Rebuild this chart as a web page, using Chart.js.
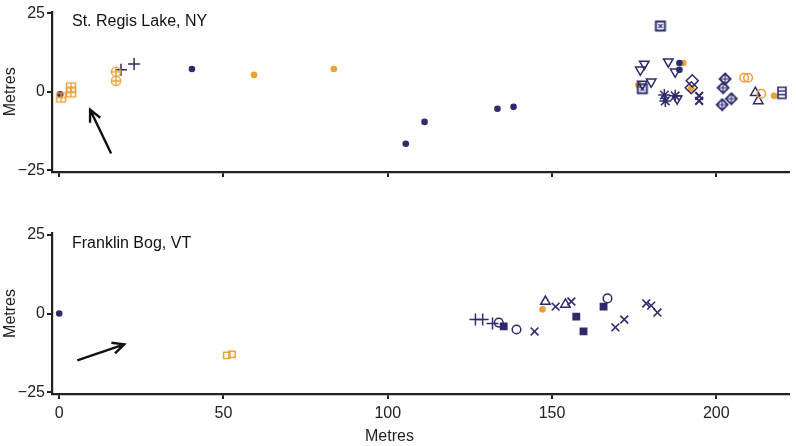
<!DOCTYPE html>
<html>
<head>
<meta charset="utf-8">
<script src="https://cdn.jsdelivr.net/npm/chart.js@4/dist/chart.umd.min.js"></script>
<style>
  body { margin: 0; background: #fff; }
  #wrap { position: relative; width: 796px; height: 446px; font-family: "Liberation Sans", Arial, sans-serif; }
  .panel { position: absolute; left: 0; width: 796px; }
  #xTitle { position: absolute; left: 365px; top: 427px; font-size: 16px; color: #222; }
</style>
</head>
<body>
<div id="wrap">
  <div class="panel" style="top:0;height:200px"><canvas id="regisChart"></canvas></div>
  <div class="panel" style="top:200px;height:246px"><canvas id="franklinChart"></canvas></div>
  <div id="xTitle">Metres</div>
</div>
<script>
// axis ticks
const xTicks = [0, 50, 100, 150, 200]
const yTicks = [-25, 0, 25]

// St. Regis Lake, NY  [x, y] in metres
const regisNavyDot = [[0.3, -0.8], [40.4, 7.3], [105.5, -16.6], [111.2, -9.6], [133.4, -5.4], [138.3, -4.8], [188.8, 9.2], [188.8, 7.0]]
const regisOrangeDot = [[59.3, 5.4], [83.6, 7.3], [176.3, 2.2], [190.0, 9.2], [192.4, 1.0], [217.6, -1.3]]
const regisOrangeSqPlus = [[0.6, -1.8], [3.6, 1.4], [3.6, -0.2]]
const regisOrangeCirPlus = [[17.3, 6.4], [17.3, 3.5]]
const regisNavyPlus = [[18.8, 7.0], [22.8, 8.9]]
const regisNavySqX = [[183.0, 21.0], [177.5, 1.0]]
const regisNavyTriDown = [[178.1, 8.9], [176.9, 7.0], [185.4, 9.6], [187.5, 6.4], [180.2, 3.2], [177.5, 2.5], [188.1, -2.2]]
const regisNavyStar = [[184.2, -1.0], [184.5, -2.9], [187.5, -1.3]]
const regisNavyDiamond = [[192.7, 3.5], [192.4, 1.3]]
const regisNavyX = [[194.8, -1.3], [194.8, -2.9]]
const regisNavyDiamondPlus = [[202.7, 4.1], [202.1, 1.3], [201.8, -4.1], [204.6, -2.2]]
const regisOrangeCircle = [[208.5, 4.5], [209.7, 4.5], [213.7, -0.6]]
const regisNavyTriUp = [[211.9, -0.3], [212.8, -2.9]]
const regisNavySqLines = [[220.0, -0.3]]
const regisArrow = [[15.8, -19.7], [9.4, -5.7]]

// Franklin Bog, VT
const franklinNavyDot = [[0, 0]]
const franklinOrangeSq = [[51.0, -13.3], [52.6, -13.0]]
const franklinNavyPlus = [[126.7, -1.9], [128.9, -1.9], [131.9, -3.2]]
const franklinNavyCircle = [[133.8, -2.9], [139.2, -5.1], [166.9, 4.8]]
const franklinNavySq = [[135.3, -4.1], [157.4, -1.0], [159.6, -5.7], [165.7, 2.2]]
const franklinNavyX = [[144.7, -5.7], [151.1, 2.2], [155.9, 3.8], [169.3, -4.4], [172.0, -1.9], [178.7, 3.2], [180.2, 2.5], [182.1, 0.3]]
const franklinOrangeDot = [[147.1, 1.3]]
const franklinNavyTriUp = [[148.0, 3.8], [154.1, 2.9]]
const franklinArrow = [[5.5, -14.9], [19.8, -9.8]]

const navy = "#2d2b6b"
const orange = "#eba23a"
const ink = "#222"
const fontFamily = "'Liberation Sans', Arial, sans-serif"

// small canvases used as custom point symbols
function glyph(color, draw) {
  const c = document.createElement("canvas")
  c.width = 14
  c.height = 14
  const g = c.getContext("2d")
  g.strokeStyle = color
  g.lineWidth = 1.4
  draw(g)
  return c
}
const sqPlus = (col) => glyph(col, (g) => {
  g.strokeRect(2.5, 2.5, 9, 9)
  g.beginPath(); g.moveTo(7, 2.5); g.lineTo(7, 11.5); g.moveTo(2.5, 7); g.lineTo(11.5, 7); g.stroke()
})
const cirPlus = (col) => glyph(col, (g) => {
  g.beginPath(); g.arc(7, 7, 4.6, 0, Math.PI * 2); g.stroke()
  g.beginPath(); g.moveTo(7, 2.4); g.lineTo(7, 11.6); g.moveTo(2.4, 7); g.lineTo(11.6, 7); g.stroke()
})
const sqX = (col) => glyph(col, (g) => {
  g.lineWidth = 2
  g.strokeRect(2.5, 2.5, 9, 9)
  g.lineWidth = 1.2
  g.beginPath(); g.moveTo(5, 5); g.lineTo(9, 9); g.moveTo(9, 5); g.lineTo(5, 9); g.stroke()
})
const diamondPlus = (col) => glyph(col, (g) => {
  g.lineWidth = 1.8
  g.beginPath(); g.moveTo(7, 1.5); g.lineTo(12.5, 7); g.lineTo(7, 12.5); g.lineTo(1.5, 7); g.closePath(); g.stroke()
  g.lineWidth = 1.2
  g.beginPath(); g.moveTo(7, 1.5); g.lineTo(7, 12.5); g.moveTo(1.5, 7); g.lineTo(12.5, 7); g.stroke()
})
const sqLines = (col) => glyph(col, (g) => {
  g.lineWidth = 1.6
  g.strokeRect(3, 1.5, 8, 11)
  g.beginPath(); g.moveTo(3, 5.2); g.lineTo(11, 5.2); g.moveTo(3, 8.8); g.lineTo(11, 8.8); g.stroke()
})

function ds(data, color, style, opts = {}) {
  return Object.assign({
    data: data.map(([x, y]) => ({ x, y })),
    pointStyle: style,
    pointRadius: 5,
    pointBorderColor: color,
    pointBackgroundColor: "rgba(0,0,0,0)",
    pointBorderWidth: 1.5,
    pointHoverRadius: 5,
  }, opts)
}
const dot = (data, color) => ds(data, color, "circle", { pointRadius: 3.3, pointBackgroundColor: color, pointBorderWidth: 0 })

const regisSets = [
  ds(regisOrangeSqPlus, orange, sqPlus(orange)),
  ds(regisOrangeCirPlus, orange, cirPlus(orange)),
  ds(regisNavyPlus, navy, "cross", { pointRadius: 6 }),
  ds(regisNavySqX, navy, sqX(navy)),
  ds(regisNavyTriDown, navy, "triangle", { pointRadius: 5.5, pointRotation: 180 }),
  ds(regisNavyStar, navy, "star", { pointRadius: 6 }),
  ds(regisNavyDiamond, navy, "rectRot", { pointRadius: 6 }),
  ds(regisNavyX, navy, "crossRot", { pointRadius: 5.5, pointBorderWidth: 2 }),
  ds(regisNavyDiamondPlus, navy, diamondPlus(navy)),
  ds(regisOrangeCircle, orange, "circle", { pointRadius: 4.3 }),
  ds(regisNavyTriUp, navy, "triangle", { pointRadius: 5.5 }),
  ds(regisNavySqLines, navy, sqLines(navy)),
  dot(regisNavyDot, navy),
  dot(regisOrangeDot, orange),
]

const franklinSets = [
  ds(franklinOrangeSq, orange, "rect", { pointRadius: 4.5 }),
  ds(franklinNavyPlus, navy, "cross", { pointRadius: 6 }),
  ds(franklinNavyCircle, navy, "circle", { pointRadius: 4.3 }),
  ds(franklinNavySq, navy, "rect", { pointRadius: 4.5, pointBackgroundColor: navy }),
  ds(franklinNavyX, navy, "crossRot", { pointRadius: 5.5, pointBorderWidth: 1.6 }),
  ds(franklinNavyTriUp, navy, "triangle", { pointRadius: 5.5 }),
  dot(franklinNavyDot, navy),
  dot(franklinOrangeDot, orange),
]

// panel label + arrow drawn in data units
const panelDecor = {
  id: "panelDecor",
  afterDatasetsDraw(chart, args, opts) {
    const { ctx, chartArea, scales } = chart
    ctx.save()
    ctx.fillStyle = "#111"
    ctx.font = "16px " + fontFamily
    ctx.textBaseline = "top"
    ctx.fillText(opts.label, chartArea.left + 20, chartArea.top + opts.labelOffset)
    const [a, b] = opts.arrow
    const x0 = scales.x.getPixelForValue(a[0]), y0 = scales.y.getPixelForValue(a[1])
    const x1 = scales.x.getPixelForValue(b[0]), y1 = scales.y.getPixelForValue(b[1])
    const ang = Math.atan2(y1 - y0, x1 - x0)
    ctx.strokeStyle = "#111"
    ctx.lineWidth = 2.4
    ctx.beginPath()
    ctx.moveTo(x0, y0); ctx.lineTo(x1, y1)
    ctx.moveTo(x1 - 13 * Math.cos(ang - 0.45), y1 - 13 * Math.sin(ang - 0.45))
    ctx.lineTo(x1, y1)
    ctx.lineTo(x1 - 13 * Math.cos(ang + 0.45), y1 - 13 * Math.sin(ang + 0.45))
    ctx.stroke()
    ctx.restore()
  },
}

function makeChart(id, datasets, cfg) {
  return new Chart(document.getElementById(id), {
    type: "scatter",
    data: { datasets },
    plugins: [panelDecor],
    options: {
      animation: false,
      responsive: true,
      maintainAspectRatio: false,
      layout: { padding: { left: 0, right: 6, top: cfg.padTop, bottom: 0 } },
      plugins: {
        legend: { display: false },
        tooltip: { enabled: false },
        panelDecor: { label: cfg.label, arrow: cfg.arrow, labelOffset: cfg.labelOffset },
      },
      scales: {
        x: {
          type: "linear",
          min: -2.2,
          max: 222,
          afterBuildTicks: (s) => { s.ticks = xTicks.map((v) => ({ value: v })) },
          afterFit: (s) => { s.height = cfg.xHeight },
          border: { display: true, color: ink, width: 2.2 },
          grid: { drawOnChartArea: false, drawTicks: true, tickLength: 5, color: ink, lineWidth: 2 },
          ticks: { display: cfg.xLabels, color: ink, padding: 5, font: { size: 16, family: fontFamily } },
        },
        y: {
          type: "linear",
          min: -25.6,
          max: 25.6,
          afterBuildTicks: (s) => { s.ticks = yTicks.map((v) => ({ value: v })) },
          afterFit: (s) => { s.width = 52 },
          border: { display: true, color: ink, width: 2.2 },
          grid: { drawOnChartArea: false, drawTicks: true, tickLength: 5, color: ink, lineWidth: 2 },
          ticks: {
            color: ink, padding: 2, font: { size: 16, family: fontFamily },
            callback: (v) => (v < 0 ? "\u2212" + Math.abs(v) : String(v)),
          },
          title: { display: true, text: "Metres", color: ink, padding: { top: 1, bottom: 0 }, font: { size: 16, family: fontFamily } },
        },
      },
    },
  })
}

makeChart("regisChart", regisSets, { padTop: 10, xHeight: 28, xLabels: false, label: "St. Regis Lake, NY", arrow: regisArrow, labelOffset: 2 })
makeChart("franklinChart", franklinSets, { padTop: 33, xHeight: 52, xLabels: true, label: "Franklin Bog, VT", arrow: franklinArrow, labelOffset: 3 })
</script>
</body>
</html>
